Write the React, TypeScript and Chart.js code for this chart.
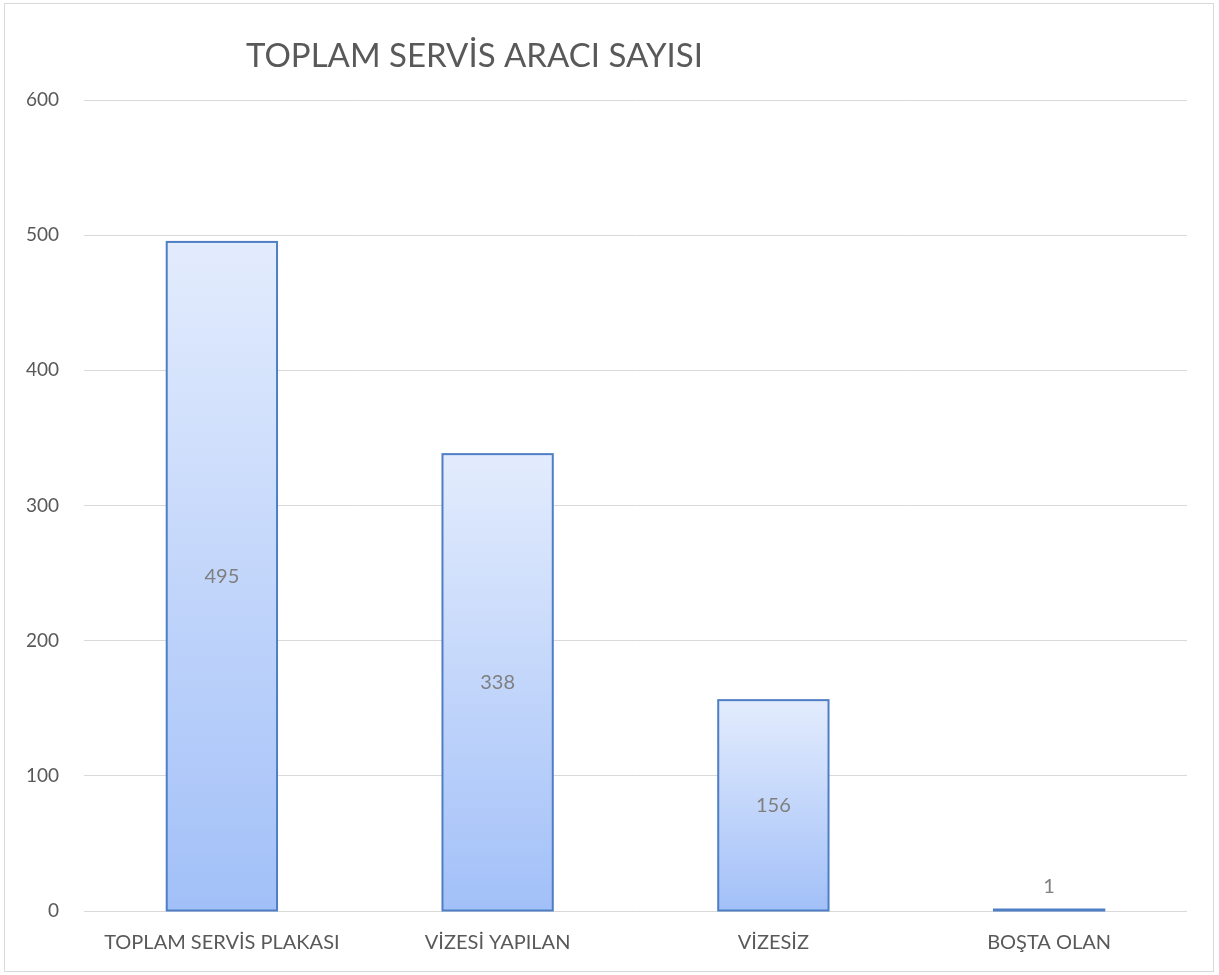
import React, { useEffect, useRef } from "react";
import { Chart, registerables } from "chart.js";

Chart.register(...registerables);

const TITLE = "TOPLAM SERVİS ARACI SAYISI";
const categories = ["TOPLAM SERVİS PLAKASI", "VİZESİ YAPILAN", "VİZESİZ", "BOŞTA OLAN"];
const values = [495, 338, 156, 1];
const yTicks = [0, 100, 200, 300, 400, 500, 600];

const FONT = "Lato, 'Noto Sans', sans-serif";

const decorPlugin = {
  id: "decor",
  beforeDraw(chart: any) {
    const ctx = chart.ctx;
    ctx.save();
    ctx.fillStyle = "#ffffff";
    ctx.fillRect(0, 0, chart.width, chart.height);
    ctx.strokeStyle = "#d9d9d9";
    ctx.lineWidth = 1;
    ctx.strokeRect(4.5, 3.5, chart.width - 10, chart.height - 7);
    ctx.restore();
  },
  afterDatasetsDraw(chart: any) {
    const ctx = chart.ctx;
    const meta = chart.getDatasetMeta(0);
    ctx.save();
    ctx.strokeStyle = "#4f7ec4";
    ctx.lineWidth = 2;
    meta.data.forEach((bar: any) => {
      const left = bar.x - bar.width / 2;
      const top = Math.min(bar.y, bar.base - 1);
      ctx.strokeRect(left, top, bar.width, bar.base - top);
    });
    ctx.restore();
  },
  afterDraw(chart: any) {
    const ctx = chart.ctx;
    ctx.save();
    ctx.fillStyle = "#595959";
    ctx.font = `33px ${FONT}`;
    ctx.textAlign = "left";
    ctx.textBaseline = "middle";
    ctx.fillText(TITLE, 246, 56);
    // data labels
    const meta = chart.getDatasetMeta(0);
    ctx.fillStyle = "#7f7f7f";
    ctx.font = `20px ${FONT}`;
    ctx.textAlign = "center";
    meta.data.forEach((bar: any, i: number) => {
      const h = bar.base - bar.y;
      const y = h < 30 ? bar.y - 23 : (bar.y + bar.base) / 2;
      ctx.fillText(String(values[i]), bar.x, y);
    });
    ctx.restore();
  },
};

export default function App() {
  const ref = useRef<HTMLCanvasElement>(null);
  useEffect(() => {
    const canvas = ref.current!;
    const chart = new Chart(canvas, {
      type: "bar",
      data: {
        labels: categories,
        datasets: [
          {
            data: values,
            backgroundColor: (c: any) => {
              const ch = c.chart;
              const ys = ch.scales?.y;
              if (!ys || c.dataIndex === undefined) return "#c5d7fa";
              const top = ys.getPixelForValue(values[c.dataIndex]);
              const base = ys.getPixelForValue(0);
              if (!isFinite(top) || !isFinite(base) || base - top < 1) return "#a9c4f8";
              const g = ch.ctx.createLinearGradient(0, top, 0, base);
              g.addColorStop(0, "#e3ecfd");
              g.addColorStop(1, "#a2c0f8");
              return g;
            },
            borderWidth: 0,
            barPercentage: 0.4,
            categoryPercentage: 1,
          },
        ],
      },
      options: {
        responsive: false,
        animation: false,
        layout: { padding: { left: 0, right: 32, top: 100, bottom: 0 } },
        plugins: {
          legend: { display: false },
          title: { display: false },
          tooltip: { enabled: false },
        },
        scales: {
          x: {
            grid: { display: false, drawTicks: false },
            border: { display: false },
            ticks: {
              color: "#595959",
              font: { family: FONT, size: 20 },
              padding: 20,
              maxRotation: 0,
              autoSkip: false,
            },
            afterFit: (s: any) => {
              s.height = 64;
            },
          },
          y: {
            min: 0,
            max: 600,
            afterBuildTicks: (s: any) => {
              s.ticks = yTicks.map((v) => ({ value: v }));
            },
            grid: { color: "#d9d9d9", lineWidth: 1, drawTicks: false },
            border: { display: false },
            ticks: {
              color: "#595959",
              font: { family: FONT, size: 19 },
              padding: 25,
            },
            afterFit: (s: any) => {
              s.width = 84;
            },
          },
        },
      },
      plugins: [decorPlugin],
    });
    return () => chart.destroy();
  }, []);
  return (
    <div style={{ position: "absolute", left: 0, top: 0, width: 1219, height: 975 }}>
      <canvas ref={ref} width={1219} height={975} style={{ display: "block" }} />
    </div>
  );
}
